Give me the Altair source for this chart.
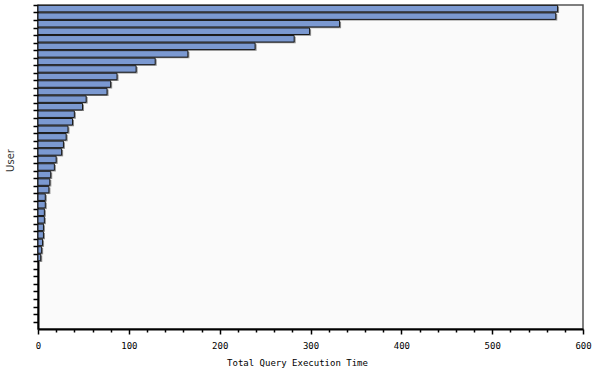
import altair as alt
import pandas as pd

users = [
    "user01", "user02", "user03", "user04", "user05", "user06", "user07", "user08",
    "user09", "user10", "user11", "user12", "user13", "user14", "user15", "user16",
    "user17", "user18", "user19", "user20", "user21", "user22", "user23", "user24",
    "user25", "user26", "user27", "user28", "user29", "user30", "user31", "user32",
    "user33", "user34", "user35", "user36", "user37", "user38", "user39", "user40",
    "user41", "user42", "user43",
]
exec_time = [572, 570, 332, 299, 282, 239, 165, 129, 108, 87, 80, 76, 53, 49, 40, 38,
             33, 31, 28, 26, 20, 18, 14, 13, 12, 8, 8, 7, 7, 6, 6, 5, 4, 3]
x_ticks = [0, 20, 40, 60, 80, 100, 120, 140, 160, 180, 200, 220, 240, 260, 280, 300,
           320, 340, 360, 380, 400, 420, 440, 460, 480, 500, 520, 540, 560, 580, 600]

df = pd.DataFrame({"User": users[:len(exec_time)], "Time": exec_time})

mono = "DejaVu Sans Mono"

x_enc = alt.X(
    "Time:Q",
    scale=alt.Scale(domain=[0, 600], nice=False),
    axis=alt.Axis(
        title="Total Query Execution Time",
        values=x_ticks,
        labelExpr="datum.value % 100 === 0 ? datum.label : ''",
        grid=False,
        domainColor="black",
        domainWidth=2,
        tickColor="black",
        tickWidth=1.5,
        tickSize={"condition": {"test": "datum.value % 100 === 0", "value": 5}, "value": 3},
        labelFont=mono,
        labelFontSize=9,
        labelColor="black",
        labelPadding=7,
        labelFlush=False,
        titleFont=mono,
        titleFontSize=9,
        titleFontWeight="normal",
        titleColor="black",
        titlePadding=8,
        titleX=259,
    ),
)
y_enc = alt.Y(
    "User:N",
    sort=users,
    scale=alt.Scale(domain=users, paddingInner=0.14, paddingOuter=0.05),
    axis=alt.Axis(
        title="User",
        labels=False,
        grid=False,
        bandPosition=0,
        domainColor="black",
        domainWidth=2,
        tickColor="black",
        tickWidth=1.5,
        tickSize=5,
        titleFont="DejaVu Sans",
        titleFontSize=10,
        titleFontWeight="normal",
        titleColor="#333333",
        titleX=-28,
        titleY=155,
        titleAngle=270,
        titleAlign="center",
        titleBaseline="middle",
    ),
)

base = alt.Chart(df)
shadow = base.mark_bar(color="#8a8a8a", xOffset=1.5, yOffset=1.2).encode(x=x_enc, y=y_enc)
bars = base.mark_bar(color="#7B99D1", stroke="#1a1a1a", strokeWidth=1).encode(x=x_enc, y=y_enc)

chart = (
    alt.layer(shadow, bars)
    .properties(
        width=545,
        height=324,
        autosize="none",
        padding={"left": 38, "top": 5, "right": 17, "bottom": 46},
        background="white",
    )
    .configure_view(stroke="#555555", strokeWidth=1.5, fill="#FAFAFA")
)

chart.save("out.html", embed_options={"renderer": "svg", "actions": False})
